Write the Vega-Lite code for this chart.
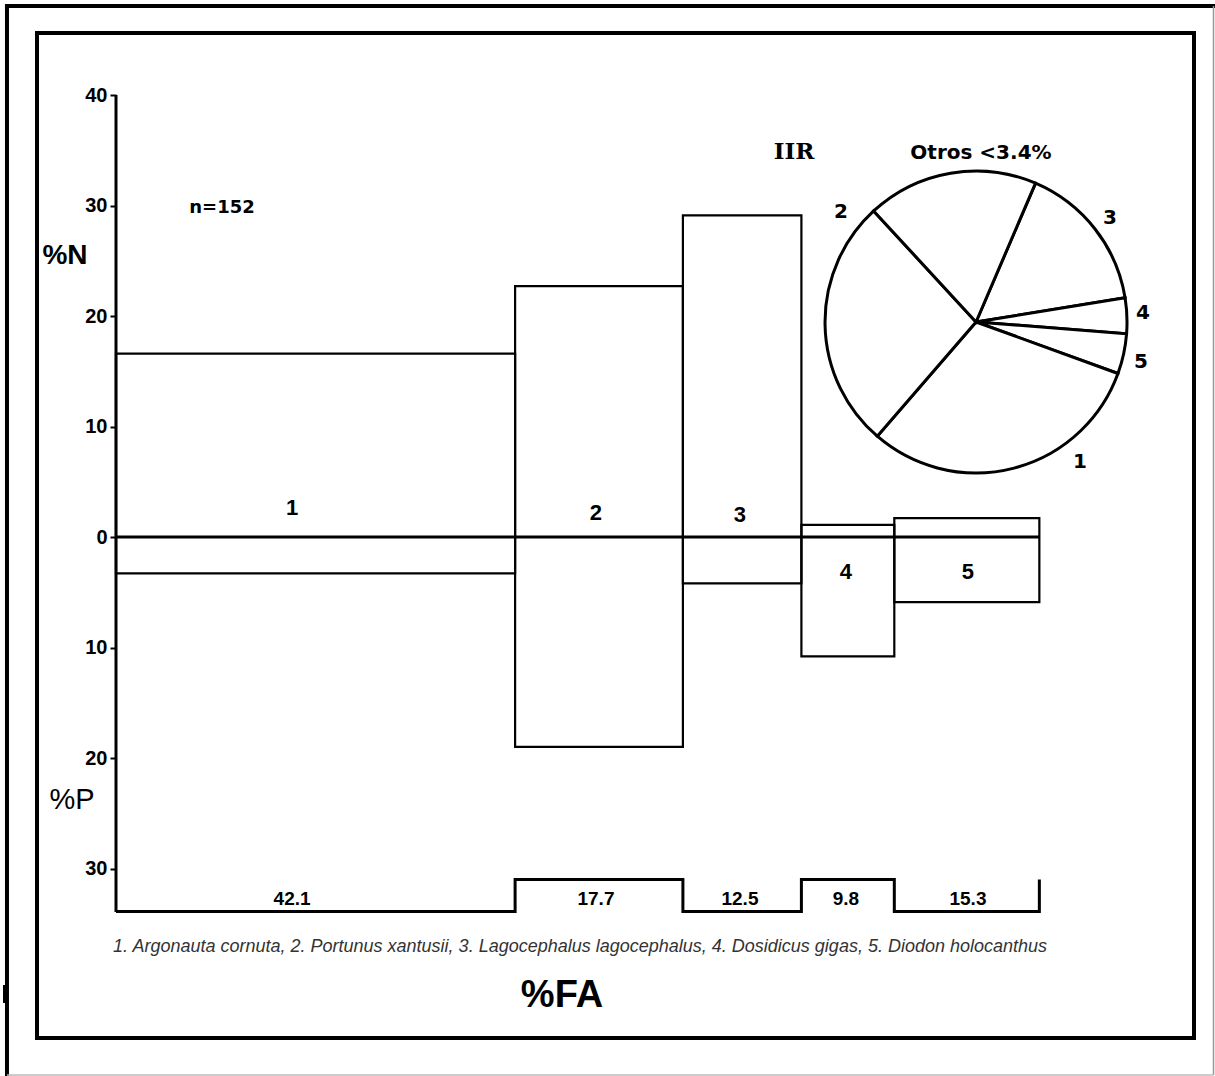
{
  "$schema": "https://vega.github.io/schema/vega-lite/v6.json",
  "autosize": {"type": "none"},
  "padding": {"left": 37, "top": 33, "right": 21, "bottom": 38},
  "width": 1157,
  "height": 1005,
  "background": "white",
  "config": {
    "view": {"stroke": "black", "strokeWidth": 4},
    "text": {"font": "Liberation Sans", "color": "black"}
  },
  "datasets": {
    "bars": [
      {"id": 1, "species": "Argonauta cornuta", "x0": 0, "x1": 42.1, "fa": 42.1, "N": 16.6, "P_down": -3.3, "labX": 18.57, "labY": 2.6},
      {"id": 2, "species": "Portunus xantusii", "x0": 42.1, "x1": 59.8, "fa": 17.7, "N": 22.7, "P_down": -19.0, "labX": 50.63, "labY": 2.2},
      {"id": 3, "species": "Lagocephalus lagocephalus", "x0": 59.8, "x1": 72.3, "fa": 12.5, "N": 29.1, "P_down": -4.2, "labX": 65.82, "labY": 2.0},
      {"id": 4, "species": "Dosidicus gigas", "x0": 72.3, "x1": 82.1, "fa": 9.8, "N": 1.1, "P_down": -10.8, "labX": 77.0, "labY": -3.2},
      {"id": 5, "species": "Diodon holocanthus", "x0": 82.1, "x1": 97.4, "fa": 15.3, "N": 1.7, "P_down": -5.9, "labX": 89.87, "labY": -3.2}
    ],
    "strip": [
      {"ord": 1, "x": 0, "y": -33.9},
      {"ord": 2, "x": 42.1, "y": -33.9},
      {"ord": 3, "x": 42.1, "y": -31.0},
      {"ord": 4, "x": 59.8, "y": -31.0},
      {"ord": 5, "x": 59.8, "y": -33.9},
      {"ord": 6, "x": 72.3, "y": -33.9},
      {"ord": 7, "x": 72.3, "y": -31.0},
      {"ord": 8, "x": 82.1, "y": -31.0},
      {"ord": 9, "x": 82.1, "y": -33.9},
      {"ord": 10, "x": 97.4, "y": -33.9},
      {"ord": 11, "x": 97.4, "y": -31.0}
    ],
    "pie": [
      {"ord": 1, "slice": "3", "pct": 16.0, "lx": 104.85, "ly": 28.9},
      {"ord": 2, "slice": "4", "pct": 3.8, "lx": 108.33, "ly": 20.3},
      {"ord": 3, "slice": "5", "pct": 4.3, "lx": 108.12, "ly": 15.8},
      {"ord": 4, "slice": "1", "pct": 30.8, "lx": 101.69, "ly": 6.8},
      {"ord": 5, "slice": "2", "pct": 26.8, "lx": 76.48, "ly": 29.4},
      {"ord": 6, "slice": "Otros <3.4%", "pct": 18.3, "lx": 91.24, "ly": 34.75}
    ],
    "one": [{}]
  },
  "layer": [
    {
      "data": {"name": "bars"},
      "mark": {"type": "rect", "fill": null, "stroke": "black", "strokeWidth": 2.2},
      "encoding": {
        "x": {"field": "x0", "type": "quantitative", "scale": {"domain": [-8.3333, 113.713], "nice": false, "zero": false}, "axis": null},
        "x2": {"field": "x1"},
        "y": {"field": "N", "type": "quantitative", "scale": {"domain": [-45.339, 45.611], "nice": false, "zero": false},
          "axis": {"values": [-30, -20, -10, 0, 10, 20, 30, 40], "labelExpr": "'' + abs(datum.value)", "domain": false, "grid": false, "ticks": true, "tickSize": 6, "tickWidth": 2, "tickColor": "black", "labelFont": "Liberation Sans", "labelFontWeight": "bold", "labelFontSize": 20, "labelColor": "black", "labelPadding": 3, "offset": -79, "title": null}},
        "y2": {"field": "P_down"}
      }
    },
    {
      "data": {"name": "one"},
      "mark": {"type": "rule", "stroke": "black", "strokeWidth": 3},
      "encoding": {"x": {"datum": 0}, "x2": {"datum": 97.4}, "y": {"datum": 0}}
    },
    {
      "data": {"name": "one"},
      "mark": {"type": "rule", "stroke": "black", "strokeWidth": 3},
      "encoding": {"x": {"datum": 0}, "y": {"datum": -33.94}, "y2": {"datum": 40}}
    },
    {
      "data": {"name": "strip"},
      "mark": {"type": "line", "stroke": "black", "strokeWidth": 3, "strokeJoin": "miter"},
      "encoding": {
        "x": {"field": "x", "type": "quantitative"},
        "y": {"field": "y", "type": "quantitative"},
        "order": {"field": "ord", "type": "quantitative"}
      }
    },
    {
      "data": {"name": "bars"},
      "mark": {"type": "text", "fontWeight": "bold", "fontSize": 22, "baseline": "middle", "align": "center"},
      "encoding": {
        "x": {"field": "labX", "type": "quantitative"},
        "y": {"field": "labY", "type": "quantitative"},
        "text": {"field": "id", "type": "nominal"}
      }
    },
    {
      "data": {"name": "bars"},
      "mark": {"type": "text", "fontWeight": "bold", "fontSize": 19, "baseline": "middle", "align": "center"},
      "encoding": {
        "x": {"field": "labX", "type": "quantitative"},
        "y": {"datum": -32.8},
        "text": {"field": "fa", "type": "quantitative", "format": ".1f"}
      }
    },
    {
      "data": {"name": "pie"},
      "mark": {"type": "arc", "outerRadius": 151, "fill": "white", "stroke": "black", "strokeWidth": 3},
      "encoding": {
        "x": {"datum": 90.72},
        "y": {"datum": 19.46},
        "theta": {"field": "pct", "type": "quantitative", "stack": true, "scale": {"domain": [0, 100], "range": [0.405, 6.688]}},
        "order": {"field": "ord", "type": "quantitative"}
      }
    },
    {
      "data": {"name": "pie"},
      "mark": {"type": "text", "font": "DejaVu Sans", "fontWeight": "bold", "fontSize": 20, "baseline": "middle", "align": "center"},
      "encoding": {
        "x": {"field": "lx", "type": "quantitative"},
        "y": {"field": "ly", "type": "quantitative"},
        "text": {"field": "slice", "type": "nominal"}
      }
    },
    {
      "data": {"name": "one"},
      "mark": {"type": "text", "font": "DejaVu Sans", "fontWeight": "bold", "fontSize": 18, "baseline": "middle", "align": "center", "text": "n=152"},
      "encoding": {"x": {"datum": 11.18}, "y": {"datum": 29.77}}
    },
    {
      "data": {"name": "one"},
      "mark": {"type": "text", "fontWeight": "bold", "fontSize": 28, "baseline": "middle", "align": "center", "text": "%N"},
      "encoding": {"x": {"datum": -5.38}, "y": {"datum": 25.43}}
    },
    {
      "data": {"name": "one"},
      "mark": {"type": "text", "fontWeight": "normal", "fontSize": 29, "baseline": "middle", "align": "center", "text": "%P"},
      "encoding": {"x": {"datum": -4.64}, "y": {"datum": -23.8}}
    },
    {
      "data": {"name": "one"},
      "mark": {"type": "text", "font": "DejaVu Serif", "fontWeight": "bold", "fontSize": 23, "baseline": "middle", "align": "center", "text": "IIR"},
      "encoding": {"x": {"datum": 71.52}, "y": {"datum": 34.84}}
    },
    {
      "data": {"name": "one"},
      "mark": {"type": "text", "fontWeight": "bold", "fontSize": 38, "baseline": "middle", "align": "center", "text": "%FA"},
      "encoding": {"x": {"datum": 47.05}, "y": {"datum": -41.54}}
    },
    {
      "data": {"name": "one"},
      "mark": {"type": "text", "fontStyle": "italic", "fontSize": 18, "baseline": "middle", "align": "center", "color": "#333333", "text": "1. Argonauta cornuta,  2. Portunus xantusii,  3. Lagocephalus lagocephalus,  4. Dosidicus gigas,  5. Diodon holocanthus"},
      "encoding": {"x": {"datum": 48.95}, "y": {"datum": -37.1}}
    },
    {
      "data": {"name": "one"},
      "mark": {"type": "rule", "stroke": "black", "strokeWidth": 4},
      "encoding": {"x": {"datum": -11.5}, "y": {"datum": -48.9}, "y2": {"datum": 48.23}}
    },
    {
      "data": {"name": "one"},
      "mark": {"type": "rule", "stroke": "black", "strokeWidth": 4},
      "encoding": {"x": {"datum": -11.71}, "x2": {"datum": 116.56}, "y": {"datum": 48.05}}
    },
    {
      "data": {"name": "one"},
      "mark": {"type": "rule", "stroke": "#999999", "strokeWidth": 1.5},
      "encoding": {"x": {"datum": 115.77}, "y": {"datum": -48.69}, "y2": {"datum": 48.05}}
    },
    {
      "data": {"name": "one"},
      "mark": {"type": "rule", "stroke": "#bbbbbb", "strokeWidth": 1.5},
      "encoding": {"x": {"datum": -11.5}, "x2": {"datum": 115.77}, "y": {"datum": -48.69}}
    },
    {
      "data": {"name": "one"},
      "mark": {"type": "rule", "stroke": "black", "strokeWidth": 3},
      "encoding": {"x": {"datum": -11.76}, "y": {"datum": -40.54}, "y2": {"datum": -42.17}}
    }
  ]
}
